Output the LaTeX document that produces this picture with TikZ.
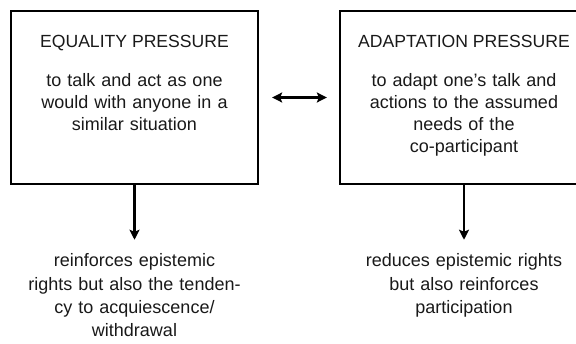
\documentclass[tikz,border=0pt]{standalone}
\usepackage{fontspec}
\setmainfont{Liberation Sans}
\usetikzlibrary{arrows.meta,positioning}

\begin{document}
\begin{tikzpicture}[
      x=1pt,y=1pt,
      >={Stealth[length=10pt,width=10pt,inset=2pt]},
      pbox/.style={draw,line width=2.3pt,minimum height=173,inner sep=0},
      ttl/.style={anchor=base,inner sep=0,text=black!90,font=\fontsize{17.6}{22}\selectfont},
      body/.style={anchor=base,inner sep=0,text width=240,align=center,text=black!90,font=\fontsize{18}{22}\selectfont},
      result/.style={anchor=base,inner sep=0,text width=250,align=center,text=black!90,font=\fontsize{18}{23.3}\selectfont},
      link/.style={line width=2.3pt}
    ]
    \useasboundingbox (0,0) rectangle (576,343);
    % the two pressures
    \node[pbox,minimum width=247] (eq) at (134.5,245.5) {};
    \node[pbox,minimum width=248] (ad) at (464,245.5) {};
    \node[ttl] (eqtitle) at (134.5,295) {EQUALITY PRESSURE};
    \node[ttl] (adtitle) at (464,295) {ADAPTATION PRESSURE};
    \node[body] (eqtext) at (134.5,256) {to talk and act as one\\ would with anyone in a\\ similar situation};
    \node[body] (adtext) at (464,256) {to adapt one’s talk and\\ actions to the assumed\\ needs of the\\ co-participant};
    % what they lead to
    \node[result] (eqres) at (134.5,76) {reinforces epistemic\\ rights but also the tenden-\\ cy to acquiescence/\\ withdrawal};
    \node[result] (adres) at (464,76) {reduces epistemic rights\\ but also reinforces\\ participation};
    \draw[link,<->,shorten <=13pt,shorten >=12pt] (eq) -- (ad);
    \draw[link,->,shorten >=14pt] (eq) -- (eqres);
    \draw[link,->,shorten >=14pt] (ad) -- (adres);
  \end{tikzpicture}
\end{document}
